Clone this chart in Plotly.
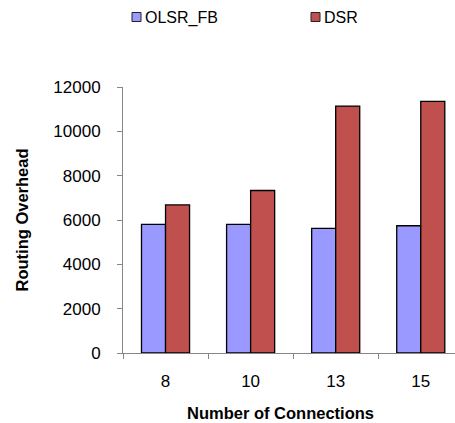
import plotly.graph_objects as go

# Routing overhead per number of connections
connections = ["8", "10", "13", "15"]
olsr_fb = [5800, 5800, 5620, 5740]
dsr = [6680, 7330, 11140, 11350]
series_names = ["OLSR_FB", "DSR"]
series_colors = ["#9999FF", "#C0504D"]

FONT = "Arial, Liberation Sans, sans-serif"
AXIS_GREY = "#868686"

W, H = 455, 423
ML, MR, MT, MB = 123, 0, 87, 70
PW = W - ML - MR

fig = go.Figure()
for name, vals, col in zip(series_names, [olsr_fb, dsr], series_colors):
    fig.add_trace(go.Bar(
        name=name, x=connections, y=vals, showlegend=False,
        marker=dict(color=col, line=dict(color="#000000", width=1.3)),
    ))


def px_x(px):
    # pixel column -> paper x coordinate
    return (px - ML) / PW


def px_y(py):
    # pixel row -> paper y coordinate
    return (H - MB - py) / (H - MT - MB)


# legend row across the top: swatch then label
legend_left = [132, 311]
for name, col, left in zip(series_names, series_colors, legend_left):
    fig.add_shape(
        type="rect", xref="paper", yref="paper",
        x0=px_x(left), x1=px_x(left + 9), y0=px_y(21.5), y1=px_y(12.5),
        fillcolor=col, line=dict(color="#222222", width=1),
    )
    fig.add_annotation(
        text=name, xref="paper", yref="paper",
        x=px_x(left + 10.5), y=px_y(17.5), xanchor="left", yanchor="middle",
        showarrow=False, font=dict(family=FONT, size=16, color="#000000"),
    )

# horizontal axis title
fig.add_annotation(
    text="<b>Number of Connections</b>", xref="paper", yref="paper",
    x=px_x(280), y=px_y(412.5), xanchor="center", yanchor="middle",
    showarrow=False, font=dict(family=FONT, size=16.5, color="#000000"),
)

fig.update_layout(
    width=W, height=H,
    margin=dict(l=ML, r=MR, t=MT, b=MB),
    paper_bgcolor="white", plot_bgcolor="white",
    barmode="group", bargap=0.435, bargroupgap=0,
    font=dict(family=FONT, size=17, color="#000000"),
    showlegend=False,
    xaxis=dict(
        type="category", range=[-0.5, 3.5 - 8.3 / 85],
        tickson="boundaries", ticks="outside", ticklen=5,
        tickcolor=AXIS_GREY, tickwidth=1, ticklabelstandoff=13,
        showline=True, linecolor=AXIS_GREY, linewidth=1,
        showgrid=False, zeroline=False,
        tickfont=dict(size=17),
    ),
    yaxis=dict(
        range=[0, 12000], tickvals=[0, 2000, 4000, 6000, 8000, 10000, 12000],
        tickformat="d",
        ticks="outside", ticklen=5, tickcolor=AXIS_GREY, tickwidth=1,
        ticklabelstandoff=13,
        showline=True, linecolor=AXIS_GREY, linewidth=1,
        showgrid=False, zeroline=False,
        tickfont=dict(size=17),
        title=dict(text="<b>Routing Overhead</b>", font=dict(size=16.5), standoff=20),
    ),
)

fig.write_html("out.html")
